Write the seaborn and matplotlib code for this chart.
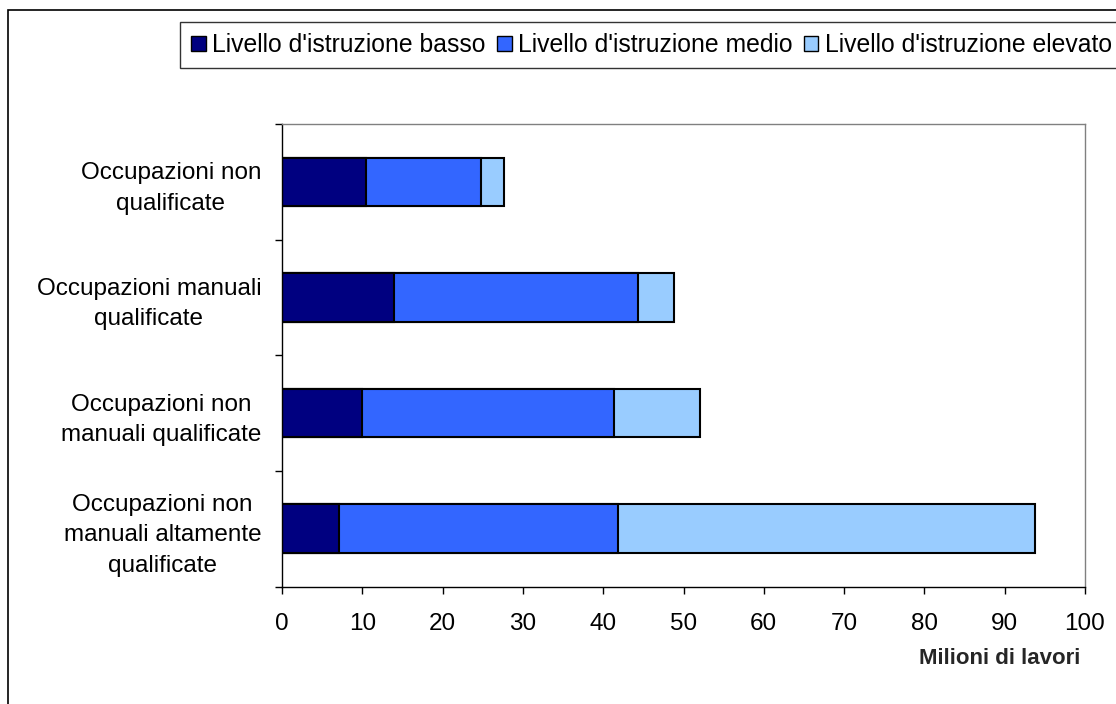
import numpy as np
import pandas as pd
import seaborn as sns
import matplotlib
matplotlib.use("Agg")
import matplotlib.pyplot as plt
from matplotlib.patches import Patch, Rectangle

sns.set_theme(style="white")
plt.rcParams['font.family'] = ['Liberation Sans', 'DejaVu Sans']
plt.rcParams['text.color'] = 'black'
plt.rcParams['xtick.color'] = 'black'
plt.rcParams['ytick.color'] = 'black'

categories = ["Occupazioni non\nqualificate",
              "Occupazioni manuali\nqualificate",
              "Occupazioni non\nmanuali qualificate",
              "Occupazioni non\nmanuali altamente\nqualificate"]
basso = [10.5, 13.9, 10.0, 7.1]
medio = [14.3, 30.4, 31.4, 34.8]
elevato = [2.8, 4.5, 10.7, 51.9]
series = ["Livello d'istruzione basso", "Livello d'istruzione medio",
          "Livello d'istruzione elevato"]
colors = ["#000080", "#3366FF", "#99CCFF"]

df = pd.DataFrame({"cat": categories, "basso": basso, "medio": medio, "elevato": elevato})
df["cum1"] = df["basso"]
df["cum2"] = df["basso"] + df["medio"]
df["cum3"] = df["cum2"] + df["elevato"]

fig = plt.figure(figsize=(11.16, 7.04), dpi=100)
ax = fig.add_axes([282 / 1116, 1 - 586.5 / 704, (1085 - 282) / 1116, (586.5 - 124) / 704])

# stacked bars drawn as overlapping cumulative totals
for col, c in zip(["cum3", "cum2", "cum1"], colors[::-1]):
    sns.barplot(data=df, x=col, y="cat", orient="h", color=c, width=0.42,
                edgecolor="black", linewidth=1.5, saturation=1, ax=ax)

ax.set_xlim(0, 100)
ax.set_ylim(3.5, -0.5)
ax.set_xticks(np.arange(0, 101, 10))
ax.set_yticks(np.arange(-0.5, 4, 1))
ax.set_yticklabels([])
ax.set_yticks(range(len(categories)), minor=True)
ax.set_yticklabels(categories, minor=True, multialignment="center", linespacing=1.5)
ax.tick_params(axis="y", which="minor", length=0, pad=15, labelsize=17.5)
ax.tick_params(axis="y", which="major", length=5, width=1, color="black", direction="out", left=True)
ax.tick_params(axis="x", length=5, width=1, color="black", direction="out", bottom=True,
               labelsize=17.5, pad=14)
ax.set_xlabel("Milioni di lavori", fontsize=16, fontweight="bold")
ax.xaxis.set_label_coords((1080 - 282) / 803, -(658.5 - 586.5) / 462.5)
ax.xaxis.label.set_ha("right")
ax.xaxis.label.set_va("center")
ax.set_ylabel("")
ax.grid(False)

for s in ["left", "bottom"]:
    ax.spines[s].set_color("black")
    ax.spines[s].set_linewidth(1)
for s in ["top", "right"]:
    ax.spines[s].set_color("#808080")
    ax.spines[s].set_linewidth(1)

handles = [Patch(facecolor=c, edgecolor="black", linewidth=1) for c in colors]
leg = fig.legend(handles, series, loc="upper left", bbox_to_anchor=(180 / 1116, 1 - 22 / 704),
                 ncol=3, fontsize=17.8, frameon=True, fancybox=False, edgecolor="black",
                 handlelength=0.6, handleheight=0.6, handletextpad=0.25, columnspacing=0.45,
                 borderpad=0.45, borderaxespad=0)
leg.get_frame().set_linewidth(1)

fig.patches.append(Rectangle((8 / 1116, -0.1), 1.2, 1.1 - 10 / 704, transform=fig.transFigure,
                             fill=False, edgecolor="black", linewidth=1.2))

fig.savefig("out.png", dpi=100)
